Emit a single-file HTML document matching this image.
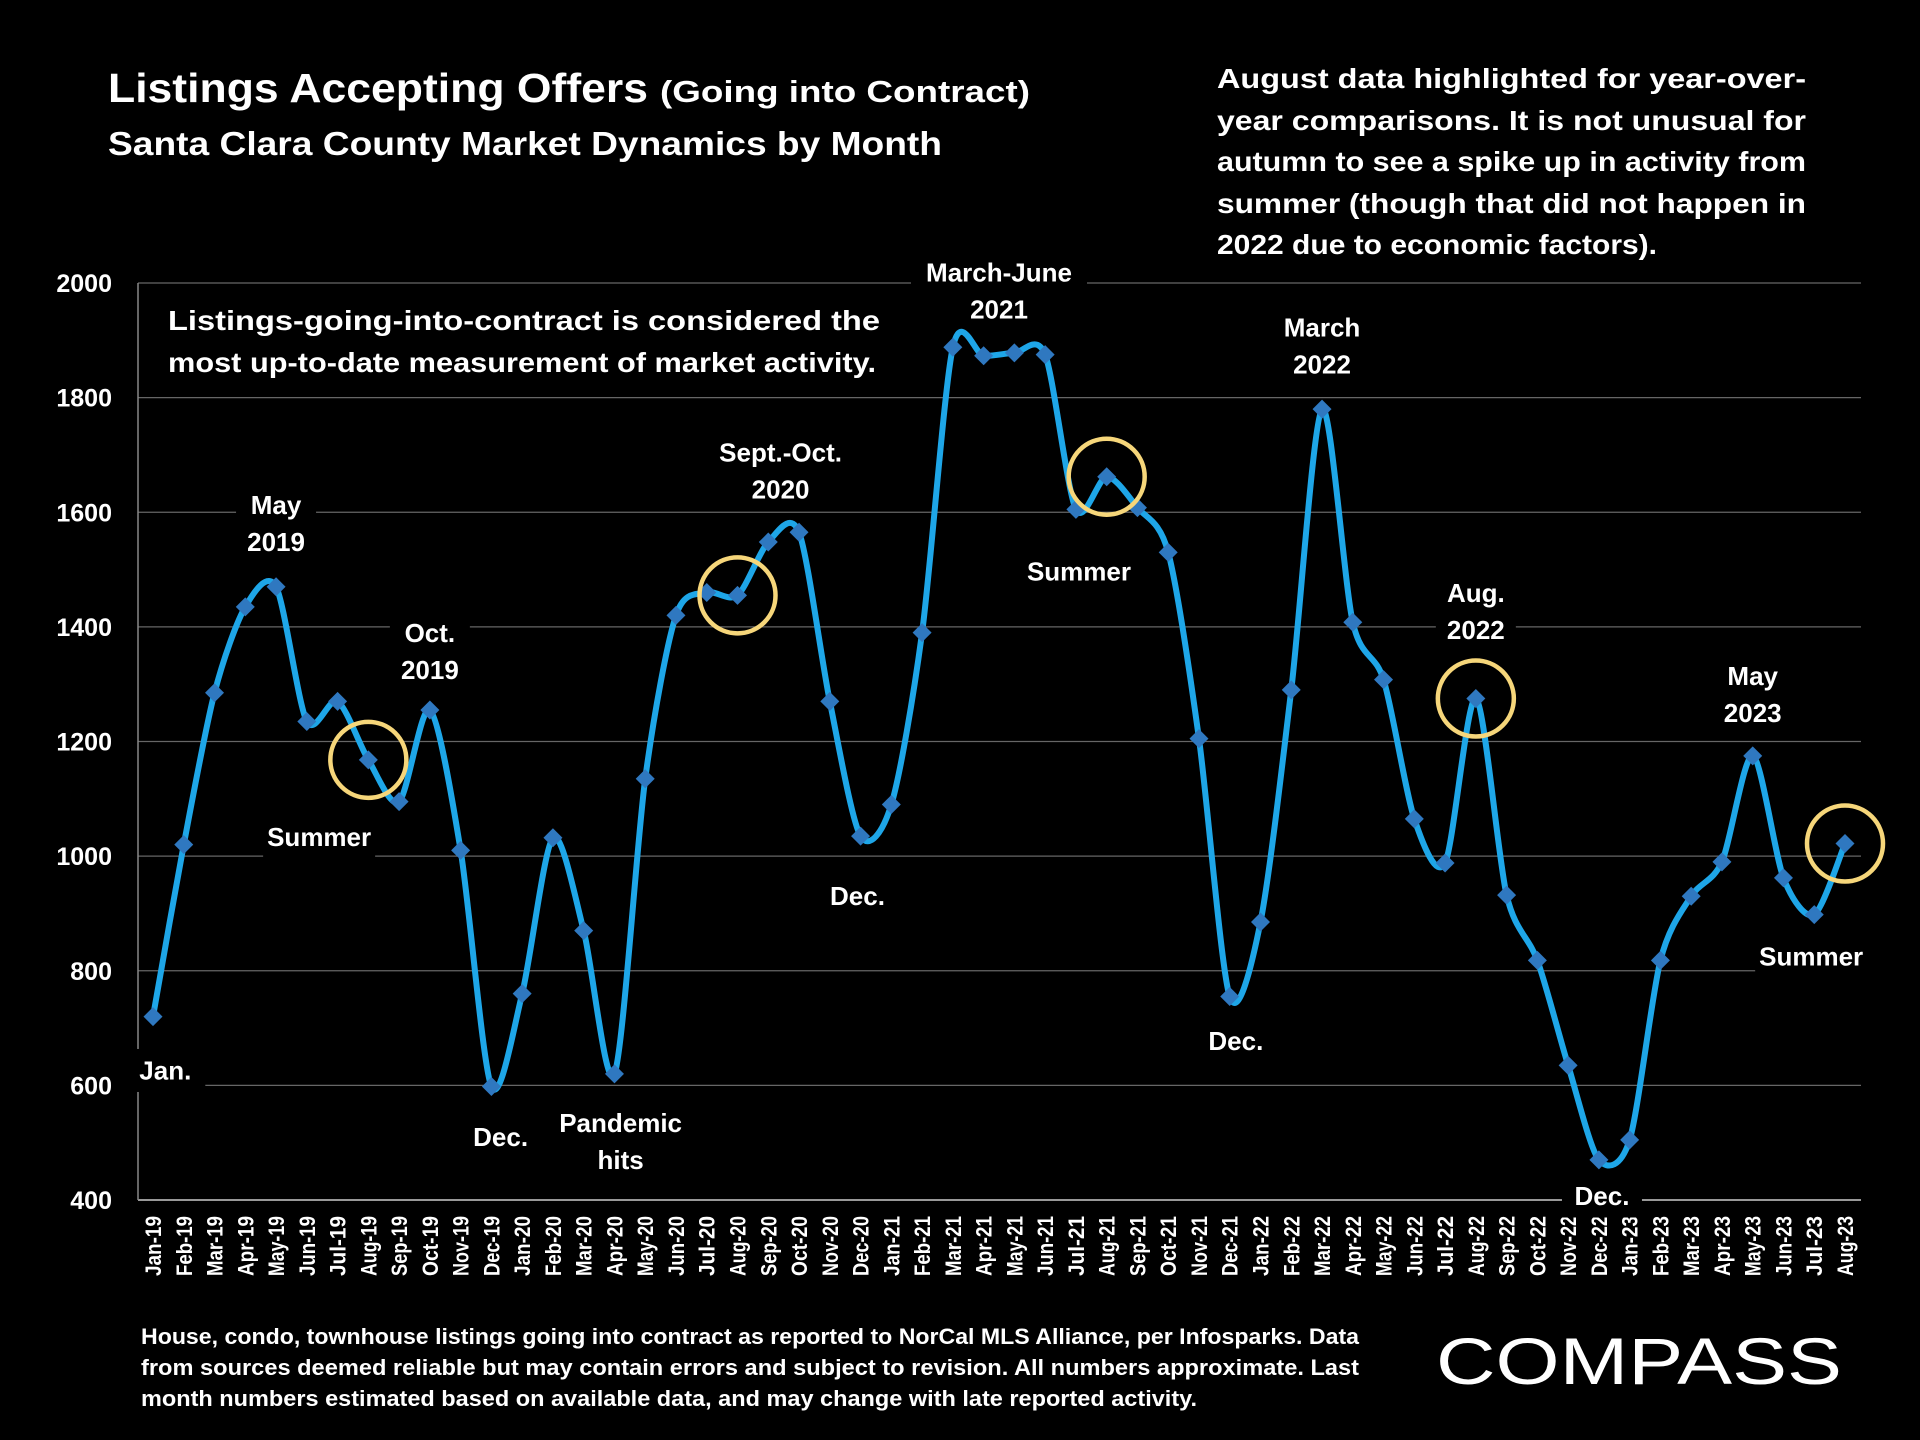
<!DOCTYPE html>
<html><head><meta charset="utf-8"><style>
html,body{margin:0;padding:0;background:#000;}
svg{display:block;font-family:"Liberation Sans",sans-serif;font-weight:bold;}
</style></head><body>
<svg id="chart" width="1920" height="1440" viewBox="0 0 1920 1440">
<rect width="1920" height="1440" fill="#000"/>
<g id="grid"></g>
<g id="yticks"></g>
<g id="xticks"></g>
<line x1="138" y1="283" x2="138" y2="1200" stroke="#888" stroke-width="1.5"/>
<g id="labels"></g>
<path id="line" fill="none" stroke="#1ea6e8" stroke-width="6" stroke-linejoin="round"/>
<g id="marks"></g>
<g id="circles"></g>

<text x="108" y="102" fill="#fff" font-size="41" textLength="540" lengthAdjust="spacingAndGlyphs">Listings Accepting Offers</text>
<text x="660" y="102" fill="#fff" font-size="31" textLength="370" lengthAdjust="spacingAndGlyphs">(Going into Contract)</text>
<text x="108" y="155" fill="#fff" font-size="33" textLength="834" lengthAdjust="spacingAndGlyphs">Santa Clara County Market Dynamics by Month</text>

<g fill="#fff" font-size="28">
<text x="1217" y="88" textLength="589" lengthAdjust="spacingAndGlyphs">August data highlighted for year-over-</text>
<text x="1217" y="130" textLength="589" lengthAdjust="spacingAndGlyphs">year comparisons. It is not unusual for</text>
<text x="1217" y="171" textLength="589" lengthAdjust="spacingAndGlyphs">autumn to see a spike up in activity from</text>
<text x="1217" y="213" textLength="589" lengthAdjust="spacingAndGlyphs">summer (though that did not happen in</text>
<text x="1217" y="254" textLength="440" lengthAdjust="spacingAndGlyphs">2022 due to economic factors).</text>
</g>
<rect x="160" y="295" width="730" height="90" fill="#000"/>
<g fill="#fff" font-size="28">
<text x="168" y="330" textLength="712" lengthAdjust="spacingAndGlyphs">Listings-going-into-contract  is  considered  the</text>
<text x="168" y="372" textLength="708" lengthAdjust="spacingAndGlyphs">most up-to-date measurement of market activity.</text>
</g>
<g fill="#fff" font-size="22" font-weight="bold">
<text x="141" y="1344" textLength="1218" lengthAdjust="spacingAndGlyphs">House, condo, townhouse listings going into contract as reported to NorCal MLS Alliance, per Infosparks. Data</text>
<text x="141" y="1375" textLength="1218" lengthAdjust="spacingAndGlyphs">from sources deemed reliable but may contain errors and subject to revision. All numbers approximate. Last</text>
<text x="141" y="1406" textLength="1056" lengthAdjust="spacingAndGlyphs">month numbers estimated based on available data, and may change with late reported activity.</text>
</g>
<text x="1436" y="1384" fill="#fff" font-size="66" font-weight="normal" textLength="406" lengthAdjust="spacingAndGlyphs">COMPASS</text>
</svg>
<script>
const categories=["Jan-19","Feb-19","Mar-19","Apr-19","May-19","Jun-19","Jul-19","Aug-19","Sep-19","Oct-19","Nov-19","Dec-19","Jan-20","Feb-20","Mar-20","Apr-20","May-20","Jun-20","Jul-20","Aug-20","Sep-20","Oct-20","Nov-20","Dec-20","Jan-21","Feb-21","Mar-21","Apr-21","May-21","Jun-21","Jul-21","Aug-21","Sep-21","Oct-21","Nov-21","Dec-21","Jan-22","Feb-22","Mar-22","Apr-22","May-22","Jun-22","Jul-22","Aug-22","Sep-22","Oct-22","Nov-22","Dec-22","Jan-23","Feb-23","Mar-23","Apr-23","May-23","Jun-23","Jul-23","Aug-23"];
const values=[720,1020,1285,1435,1470,1235,1270,1168,1095,1255,1010,598,760,1032,870,620,1135,1420,1460,1455,1548,1565,1270,1035,1090,1390,1888,1873,1878,1875,1605,1662,1608,1530,1205,755,885,1290,1780,1408,1308,1065,988,1275,932,818,635,470,505,818,930,990,1175,962,898,1022];
const yTicks=[400,600,800,1000,1200,1400,1600,1800,2000];
const highlighted=["Aug-19","Aug-20","Aug-21","Aug-22","Aug-23"];
const annotations=[
 {t:["May","2019"],c:"May-19",v:1580},
 {t:["Oct.","2019"],c:"Oct-19",v:1357},
 {t:["Summer"],c:"Jul-19",v:1033,dx:-0.6},
 {t:["Jan."],c:"Jan-19",v:626,dx:0.4},
 {t:["Dec."],c:"Dec-19",v:510,dx:0.3},
 {t:["Pandemic","hits"],c:"Apr-20",v:502,dx:0.2},
 {t:["Sept.-Oct.","2020"],c:"Aug-20",v:1672,dx:1.4},
 {t:["Dec."],c:"Dec-20",v:930,dx:-0.1},
 {t:["March-June","2021"],c:"Apr-21",v:1986,dx:0.5},
 {t:["Summer"],c:"Jul-21",v:1497,dx:0.1},
 {t:["March","2022"],c:"Mar-22",v:1890},
 {t:["Dec."],c:"Dec-21",v:677,dx:0.2},
 {t:["Aug.","2022"],c:"Aug-22",v:1427},
 {t:["May","2023"],c:"May-23",v:1282},
 {t:["Dec."],c:"Dec-22",v:407,dx:0.1},
 {t:["Summer"],c:"Aug-23",v:825,dx:-1.1}
];
const X0=153,X1=1845,Y0=1200,Y1=283,VMIN=400,VMAX=2000;
function xs(i){return X0+(X1-X0)*i/(categories.length-1);}
function ys(v){return Y0-(v-VMIN)/(VMAX-VMIN)*(Y0-Y1);}
const NS="http://www.w3.org/2000/svg";
function mk(tag,attrs,parent){const e=document.createElementNS(NS,tag);for(const k in attrs)e.setAttribute(k,attrs[k]);parent.appendChild(e);return e;}
const grid=document.getElementById('grid'),yt=document.getElementById('yticks'),xt=document.getElementById('xticks');
yTicks.forEach(v=>{
 const l=mk('line',{x1:138,x2:1861,y1:ys(v),y2:ys(v),stroke:v===400?'#999':'#666','stroke-width':v===400?2:1.3},grid);
 
 
 const t=mk('text',{x:112,y:ys(v)+9,'text-anchor':'end',fill:'#fff','font-size':25},yt);
 t.textContent=v;
 
 
});
categories.forEach((c,i)=>{
 const t=mk('text',{transform:`translate(${xs(i)+8},1216) rotate(-90)`,'text-anchor':'end',fill:'#fff','font-size':22,textLength:c.length>6?66:60,lengthAdjust:'spacingAndGlyphs'},xt);
 t.textContent=c;
 
 
});
const pts=values.map((v,i)=>[xs(i),ys(v)]);
let d=`M${pts[0][0]},${pts[0][1]}`;
for(let i=0;i<pts.length-1;i++){
 const p0=pts[Math.max(0,i-1)],p1=pts[i],p2=pts[i+1],p3=pts[Math.min(pts.length-1,i+2)];
 const k=0.14;
 d+=` C${p1[0]+(p2[0]-p0[0])*k},${p1[1]+(p2[1]-p0[1])*k} ${p2[0]-(p3[0]-p1[0])*k},${p2[1]-(p3[1]-p1[1])*k} ${p2[0]},${p2[1]}`;
}
document.getElementById('line').setAttribute('d',d);
const marks=document.getElementById('marks');
pts.forEach((p,i)=>{
 const s=9.5;
 const m=mk('polygon',{points:`${p[0]},${p[1]-s} ${p[0]+s},${p[1]} ${p[0]},${p[1]+s} ${p[0]-s},${p[1]}`,fill:'#2f78c0'},marks);
 
 
});
const circ=document.getElementById('circles');
highlighted.forEach(c=>{
 const i=categories.indexOf(c);
 const e=mk('circle',{cx:xs(i),cy:ys(values[i]),r:38,fill:'none',stroke:'#f6d67a','stroke-width':4.5},circ);
 
 
});
const lab=document.getElementById('labels');
annotations.forEach(a=>{
 const i=categories.indexOf(a.c)+(a.dx||0);
 const x=xs(i),y=ys(a.v);
 const w=Math.max(...a.t.map(s=>s.length))*16+16,h=a.t.length*37+6;
 const r=mk('rect',{x:x-w/2,y:y-h/2,width:w,height:h,fill:'#000'},lab);
 
 
 a.t.forEach((s,j)=>{
  const t=mk('text',{x:x,y:y-(a.t.length-1)*18.5+j*37+9,'text-anchor':'middle',fill:'#fff','font-size':26},lab);
  t.textContent=s;
  
  
 });
});
</script>
</body></html>
